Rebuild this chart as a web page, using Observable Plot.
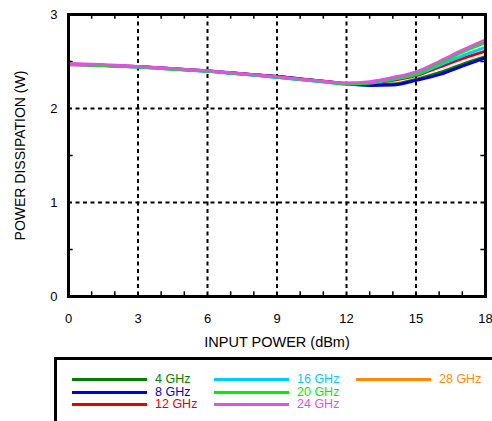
<!DOCTYPE html>
<html>
<head>
<meta charset="utf-8">
<script src="https://cdn.jsdelivr.net/npm/d3@7"></script>
<script src="https://cdn.jsdelivr.net/npm/@observablehq/plot@0.6"></script>
<style>
  body { margin: 0; background: #fff; font-family: "Liberation Sans", Arial, Helvetica, sans-serif; }
  #wrap { position: relative; width: 492px; height: 421px; overflow: hidden; }
  #legend { position: absolute; left: 54px; top: 357px; width: 460px; height: 80px;
            border-left: 3px solid #000; border-top: 3px solid #000; box-sizing: border-box; }
  .item { position: absolute; font-size: 12.5px; line-height: 13px; white-space: nowrap; }
  .item .ln { position: absolute; height: 3px; top: 5px; }
</style>
</head>
<body>
<div id="wrap"><div id="chart"></div><div id="legend"></div></div>
<script>
// ---- data ----
const inputPower = [0,1,2,3,4,5,6,7,8,9,10,11,12,13,14,15,16,17,18];
const seriesNames = ["4 GHz","8 GHz","12 GHz","16 GHz","20 GHz","24 GHz","28 GHz"];
const seriesColors = ["#008000","#0000d8","#e80000","#00ccff","#00ee00","#dd55dd","#ff8c00"];
const p4  = [2.47,2.465,2.455,2.445,2.43,2.415,2.40,2.38,2.36,2.34,2.315,2.29,2.265,2.255,2.26,2.31,2.38,2.47,2.55];
const p8  = [2.47,2.465,2.455,2.445,2.43,2.415,2.40,2.38,2.36,2.34,2.315,2.29,2.26,2.245,2.25,2.30,2.36,2.45,2.54];
const p12 = [2.465,2.462,2.453,2.443,2.428,2.413,2.398,2.378,2.357,2.335,2.31,2.287,2.265,2.27,2.30,2.35,2.44,2.53,2.61];
const p16 = [2.47,2.463,2.452,2.44,2.425,2.41,2.395,2.375,2.353,2.33,2.307,2.283,2.26,2.27,2.31,2.36,2.46,2.56,2.65];
const p20 = [2.47,2.463,2.452,2.441,2.426,2.411,2.396,2.376,2.355,2.332,2.308,2.284,2.262,2.275,2.32,2.37,2.48,2.60,2.70];
const p24 = [2.48,2.47,2.46,2.448,2.433,2.418,2.401,2.381,2.36,2.337,2.312,2.289,2.27,2.285,2.33,2.39,2.50,2.62,2.73];
const p28 = []; // not visible in chart
const xTicks = [0,3,6,9,12,15,18];
const yTicks = [0,1,2,3];
const xGrid = [3,6,9,12,15];
const yGrid = [1,2];
const xMinor = [1,2,4,5,7,8,10,11,13,14,16,17];
const yMinor = [0.5,1.5,2.5];
const xTitle = "INPUT POWER (dBm)";
const yTitle = "POWER DISSIPATION (W)";

// ---- build ----
const allSeries = [p4,p8,p12,p16,p20,p24,p28];
const rows = [];
allSeries.forEach((vals, i) => vals.forEach((v, j) => rows.push({x: inputPower[j], y: v, s: seriesNames[i]})));

const font = '"Liberation Sans", Arial, Helvetica, sans-serif';
const chart = Plot.plot({
  width: 492, height: 350,
  marginLeft: 68, marginRight: 7, marginTop: 14, marginBottom: 54,
  style: {fontFamily: font, fontSize: "13px", color: "#000", background: "#fff"},
  x: {domain: [0,18]},
  y: {domain: [0,3]},
  color: {domain: seriesNames, range: seriesColors},
  marks: [
    Plot.gridX(xGrid, {stroke: "#000", strokeOpacity: 1, strokeWidth: 2, strokeDasharray: "4,3.5"}),
    Plot.gridY(yGrid, {stroke: "#000", strokeOpacity: 1, strokeWidth: 2, strokeDasharray: "4,3.5"}),
    Plot.ruleX(xMinor, {y1: 0, y2: 0.05, stroke: "#000", strokeWidth: 1.5}),
    Plot.ruleX(xMinor, {y1: 2.95, y2: 3, stroke: "#000", strokeWidth: 1.5}),
    Plot.ruleY(yMinor, {x1: 0, x2: 0.2, stroke: "#000", strokeWidth: 1.5}),
    Plot.ruleY(yMinor, {x1: 17.8, x2: 18, stroke: "#000", strokeWidth: 1.5}),
    Plot.line(rows, {x: "x", y: "y", z: "s", stroke: "s", strokeWidth: 3, curve: "monotone-x"}),
    Plot.frame({stroke: "#000", strokeWidth: 3}),
    Plot.axisX({ticks: xTicks, tickSize: 0, tickPadding: 17, tickFormat: d3.format("d"), label: null}),
    Plot.axisY({ticks: yTicks, tickSize: 0, tickPadding: 11, tickFormat: d3.format("d"), label: null}),
    Plot.text([xTitle], {frameAnchor: "bottom", text: d => d, dy: 50, fontSize: 14.5}),
    Plot.text([yTitle], {frameAnchor: "left", text: d => d, rotate: -90, dx: -48, textAnchor: "middle", fontSize: 14})
  ]
});
document.getElementById("chart").appendChild(chart);

// ---- legend ----
const legend = document.getElementById("legend");
const cols = [[0,1,2],[3,4,5],[6]];
cols.forEach((idxs, c) => {
  idxs.forEach((k, r) => {
    const it = document.createElement("div");
    it.className = "item";
    it.style.left = (15 + c * 142) + "px";
    it.style.top = (13 + r * 12.7) + "px";
    it.style.width = "140px";
    const ln = document.createElement("div");
    ln.className = "ln";
    ln.style.left = "0px";
    ln.style.width = "75px";
    ln.style.background = seriesColors[k];
    it.appendChild(ln);
    const tx = document.createElement("span");
    tx.textContent = seriesNames[k];
    tx.style.position = "absolute";
    tx.style.left = "83px";
    tx.style.color = seriesColors[k];
    it.appendChild(tx);
    legend.appendChild(it);
  });
});
</script>
</body>
</html>
